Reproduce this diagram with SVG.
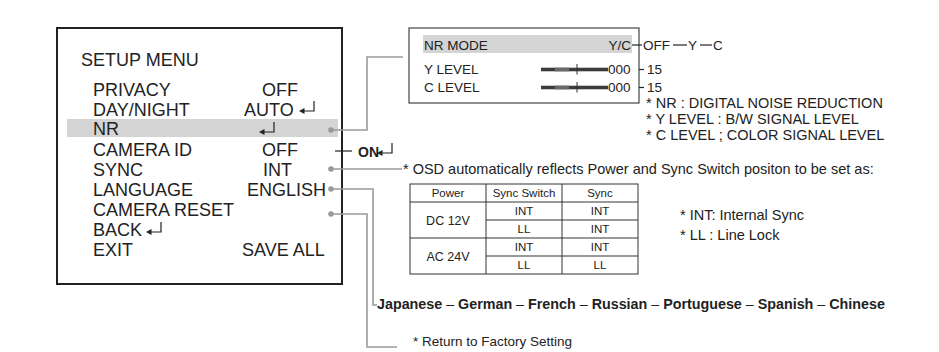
<svg xmlns="http://www.w3.org/2000/svg" xmlns:xlink="http://www.w3.org/1999/xlink" width="939" height="352" viewBox="0 0 939 352">
<defs>
<style>
text{font-family:"Liberation Sans",Arial,Helvetica,sans-serif;fill:#222}
.m{font-size:18px}
.b{font-size:13.5px}
.n{font-size:14.5px}
.t{font-size:11.5px;text-anchor:middle}
.bold{font-weight:bold}
.con{fill:none;stroke:#9a9a9a;stroke-width:1.6}
.dot{fill:#9a9a9a}
.blk{fill:none;stroke:#222;stroke-width:1.2}
.tab{fill:none;stroke:#333;stroke-width:1}
</style>
<g id="enter"><path d="M3,0 H15 V-10" fill="none" stroke="#222" stroke-width="1.2"/><path d="M0,0 L5.5,-3 L5.5,3 Z" fill="#222"/></g>
<g id="lvl"><rect x="0" y="-1.8" width="67" height="3.6" fill="#3c3c3c"/><rect x="14" y="-1.8" width="14" height="3.6" fill="#6a6a6a"/><line x1="36" y1="-5.5" x2="36" y2="5" stroke="#333" stroke-width="1"/></g>
</defs>

<g id="setup-menu">
<rect x="57" y="28" width="285" height="256" fill="#fff" stroke="#222" stroke-width="2"/>
<rect x="67" y="119" width="271" height="18" fill="#d4d4d4"/>
<text class="m" x="81" y="65.5">SETUP MENU</text>
<text class="m" x="93" y="96">PRIVACY</text><text class="m" x="262" y="96">OFF</text>
<text class="m" x="93" y="115.5">DAY/NIGHT</text><text class="m" x="244" y="115.5">AUTO</text>
<use href="#enter" x="299" y="111"/>
<text class="m" x="93" y="135">NR</text>
<use href="#enter" x="259" y="132"/>
<text class="m" x="93" y="155.5">CAMERA ID</text><text class="m" x="262" y="155.5">OFF</text>
<text class="m" x="93" y="175.5">SYNC</text><text class="m" x="263" y="175.5">INT</text>
<text class="m" x="93" y="195.5">LANGUAGE</text><text class="m" x="247" y="195.5">ENGLISH</text>
<text class="m" x="93" y="215.5">CAMERA RESET</text>
<text class="m" x="93" y="236">BACK</text>
<use href="#enter" x="146" y="232"/>
<text class="m" x="93" y="256">EXIT</text><text class="m" x="242" y="256">SAVE ALL</text>
</g>

<g id="nr-mode">
<rect x="409" y="28" width="230" height="75" fill="#fff" stroke="#444" stroke-width="1.2"/>
<rect x="423" y="35" width="209" height="18" fill="#d4d4d4"/>
<text class="b" x="424" y="50">NR MODE</text>
<text class="b" x="631" y="50" text-anchor="end">Y/C</text>
<text class="b" x="424" y="74">Y LEVEL</text>
<text class="b" x="424" y="92">C LEVEL</text>
<use href="#lvl" x="541" y="69.5"/>
<use href="#lvl" x="541" y="87.5"/>
<text class="b" x="608" y="74">000</text>
<text class="b" x="608" y="92">000</text>
</g>

<g id="nr-options">
<line x1="632" y1="45" x2="642" y2="45" class="blk"/>
<text class="b" x="643" y="50">OFF</text>
<line x1="673" y1="45" x2="687" y2="45" class="blk"/>
<text class="b" x="688" y="50">Y</text>
<line x1="700" y1="45" x2="712" y2="45" class="blk"/>
<text class="b" x="713" y="50">C</text>
<line x1="639" y1="69.5" x2="644" y2="69.5" class="blk"/>
<text class="b" x="647" y="74">15</text>
<line x1="639" y1="87.5" x2="644" y2="87.5" class="blk"/>
<text class="b" x="647" y="92">15</text>
</g>

<g id="nr-notes">
<text class="n" x="646" y="108">* NR : DIGITAL NOISE REDUCTION</text>
<text class="n" x="646" y="124">* Y LEVEL : B/W SIGNAL LEVEL</text>
<text class="n" x="646" y="140">* C LEVEL ; COLOR SIGNAL LEVEL</text>
</g>

<g id="camera-id-on">
<line x1="335" y1="151" x2="352" y2="151" class="blk"/>
<text class="bold" x="358" y="156.5" style="font-size:14px">ON</text>
<use href="#enter" x="377" y="153"/>
</g>

<g id="sync-note">
<text class="n" x="403" y="174">* OSD automatically reflects Power and Sync Switch positon to be set as:</text>
</g>

<g id="sync-table">
<rect x="410" y="184" width="228" height="90" class="tab"/>
<line x1="486" y1="184" x2="486" y2="274" class="tab"/>
<line x1="562" y1="184" x2="562" y2="274" class="tab"/>
<line x1="410" y1="202" x2="638" y2="202" class="tab"/>
<line x1="486" y1="220" x2="638" y2="220" class="tab"/>
<line x1="410" y1="238" x2="638" y2="238" class="tab"/>
<line x1="486" y1="256" x2="638" y2="256" class="tab"/>
<text class="t" x="448" y="197">Power</text>
<text class="t" x="524" y="197">Sync Switch</text>
<text class="t" x="600" y="197">Sync</text>
<text class="t" x="448" y="224.5" style="font-size:12.5px">DC 12V</text>
<text class="t" x="448" y="260.5" style="font-size:12.5px">AC 24V</text>
<text class="t" x="524" y="215">INT</text><text class="t" x="600" y="215">INT</text>
<text class="t" x="524" y="233">LL</text><text class="t" x="600" y="233">INT</text>
<text class="t" x="524" y="251">INT</text><text class="t" x="600" y="251">INT</text>
<text class="t" x="524" y="269">LL</text><text class="t" x="600" y="269">LL</text>
</g>

<g id="sync-legend">
<text class="n" x="680" y="220">* INT: Internal Sync</text>
<text class="n" x="680" y="240">* LL : Line Lock</text>
</g>

<g id="languages">
<text class="bold" x="377" y="309" style="font-size:14.3px">Japanese<tspan font-weight="normal"> – </tspan>German<tspan font-weight="normal"> – </tspan>French<tspan font-weight="normal"> – </tspan>Russian<tspan font-weight="normal"> – </tspan>Portuguese<tspan font-weight="normal"> – </tspan>Spanish<tspan font-weight="normal"> – </tspan>Chinese</text>
</g>

<g id="factory-note">
<text x="413" y="346" style="font-size:13.5px">* Return to Factory Setting</text>
</g>

<g id="connectors">
<path class="con" d="M331,130 H367 V57 H403"/>
<path class="con" d="M331,169 H402"/>
<path class="con" d="M331,189 H373 V305 H377"/>
<path class="con" d="M331,214 H367 V347 H397"/>
<circle class="dot" cx="331" cy="130" r="2.8"/>
<circle class="dot" cx="331" cy="169" r="2.8"/>
<circle class="dot" cx="331" cy="189" r="2.8"/>
<circle class="dot" cx="331" cy="214" r="2.8"/>
</g>
</svg>
